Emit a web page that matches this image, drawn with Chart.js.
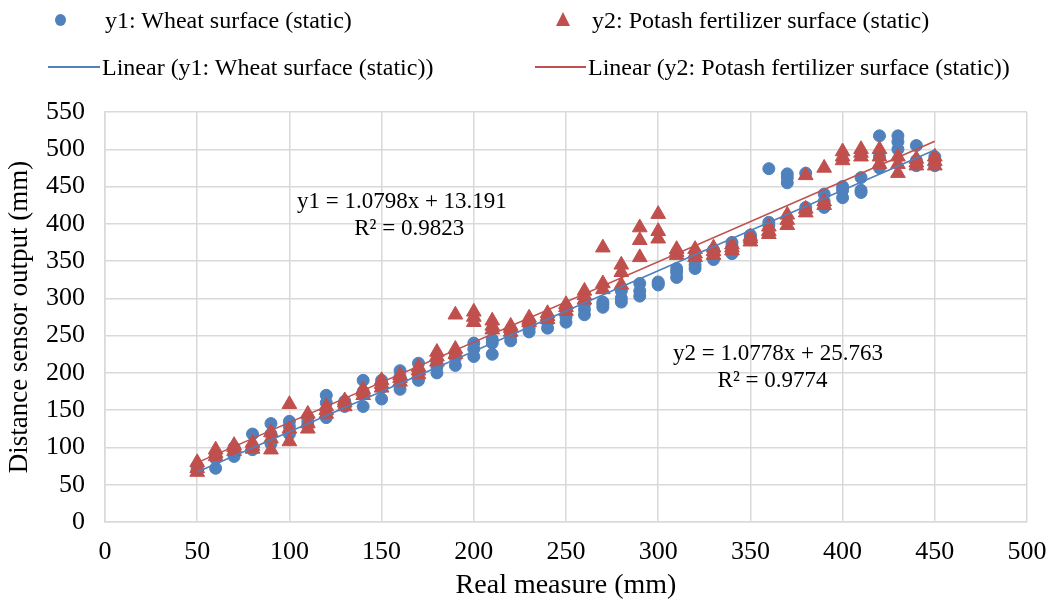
<!DOCTYPE html>
<html>
<head>
<meta charset="utf-8">
<script src="https://cdn.jsdelivr.net/npm/chart.js@4.4.1/dist/chart.umd.min.js"></script>
<style>
  html, body { margin: 0; padding: 0; background: #fff; }
  #wrap { position: relative; width: 1057px; height: 602px; }
  #legend { position: absolute; left: 0; top: 0; width: 1057px; height: 100px;
            font-family: "Liberation Serif", "Times New Roman", serif; font-size: 24px; color: #000; }
  .item { position: absolute; white-space: nowrap; line-height: 24px; }
  .sym { position: absolute; }
</style>
</head>
<body>
<div id="wrap">
  <canvas id="myChart" width="1057" height="602"></canvas>
  <div id="legend">
    <span class="sym" style="left:55px;top:14px;width:11px;height:12px;border-radius:50%;background:#4F81BD"></span>
    <span class="item" style="left:105px;top:8px">y1: Wheat surface (static)</span>
    <span class="sym" style="left:556px;top:12px;width:0;height:0;border-left:7px solid transparent;border-right:7px solid transparent;border-bottom:14px solid #C0504D"></span>
    <span class="item" style="left:592px;top:8px">y2: Potash fertilizer surface (static)</span>
    <span class="sym" style="left:48px;top:66px;width:52px;height:2px;background:#4F81BD"></span>
    <span class="item" style="left:102px;top:55px">Linear (y1: Wheat surface (static))</span>
    <span class="sym" style="left:535px;top:66px;width:51px;height:2px;background:#C0504D"></span>
    <span class="item" style="left:588px;top:55px">Linear (y2: Potash fertilizer surface (static))</span>
  </div>
</div>
<script>
const measures = [50, 60, 70, 80, 90, 100, 110, 120, 130, 140, 150, 160, 170, 180, 190, 200,
                  210, 220, 230, 240, 250, 260, 270, 280, 290, 300, 310, 320, 330, 340, 350,
                  360, 370, 380, 390, 400, 410, 420, 430, 440, 450];

// three readings per measure, wheat surface
const wheatA = [70, 72, 88, 97, 105, 118, 130, 140, 155, 155, 165, 178, 190, 200, 210, 222,
                225, 243, 255, 260, 268, 278, 288, 295, 303, 318, 328, 340, 352, 360, 380,
                398, 455, 418, 422, 435, 442, 475, 500, 478, 478];
const wheatB = [72, 85, 95, 100, 118, 128, 135, 160, 160, 175, 180, 195, 200, 208, 220, 232,
                240, 250, 260, 268, 275, 285, 292, 300, 310, 320, 335, 345, 360, 370, 383,
                402, 462, 422, 430, 445, 445, 490, 510, 485, 485];
const wheatC = [75, 90, 100, 118, 132, 135, 140, 170, 162, 190, 190, 203, 213, 215, 225, 240,
                245, 255, 265, 272, 285, 292, 295, 310, 320, 322, 340, 352, 365, 375, 385,
                474, 467, 468, 440, 450, 462, 518, 518, 505, 490];

// three readings per measure, potash fertilizer surface
const potashA = [67, 88, 95, 98, 97, 108, 125, 145, 155, 170, 180, 188, 198, 215, 225, 268,
                 258, 255, 268, 272, 283, 298, 312, 318, 355, 380, 358, 355, 358, 364, 376,
                 386, 398, 415, 425, 485, 490, 480, 468, 478, 478];
const potashB = [72, 92, 100, 102, 112, 125, 132, 150, 160, 175, 185, 193, 203, 222, 232, 275,
                 263, 260, 271, 276, 288, 304, 320, 335, 378, 390, 362, 360, 363, 368, 380,
                 390, 405, 420, 430, 490, 495, 490, 480, 482, 484];
const potashC = [80, 97, 103, 106, 120, 158, 145, 155, 163, 178, 190, 197, 208, 228, 278, 282,
                 270, 263, 274, 280, 292, 310, 368, 345, 395, 413, 366, 366, 368, 372, 383,
                 396, 412, 465, 475, 497, 500, 500, 490, 487, 490];

// trendline coefficients
const slope1 = 1.0798, icpt1 = 13.191, r2_1 = 0.9823;
const slope2 = 1.0778, icpt2 = 25.763, r2_2 = 0.9774;
const trendRange = [50, 450];

const blue = '#4F81BD';
const red = '#C0504D';
const font = 'Liberation Serif';

function points(xs, ...cols) {
  const out = [];
  cols.forEach(c => xs.forEach((x, i) => out.push({ x: x, y: c[i] })));
  return out;
}
function trend(m, b) {
  return trendRange.map(x => ({ x: x, y: m * x + b }));
}

const labelPlugin = {
  id: 'trendLabels',
  afterDraw(chart) {
    const c = chart.ctx, xs = chart.scales.x, ys = chart.scales.y;
    c.save();
    c.font = '23px "' + font + '"';
    c.fillStyle = '#000';
    c.textAlign = 'center';
    c.textBaseline = 'middle';
    c.fillText('y1 = ' + slope1 + 'x + ' + icpt1, xs.getPixelForValue(161), ys.getPixelForValue(430));
    c.fillText('R² = ' + r2_1, xs.getPixelForValue(165), ys.getPixelForValue(393));
    c.fillText('y2 = ' + slope2 + 'x + ' + icpt2, xs.getPixelForValue(365), ys.getPixelForValue(226));
    c.fillText('R² = ' + r2_2, xs.getPixelForValue(362), ys.getPixelForValue(189));
    c.restore();
  }
};

const ctx = document.getElementById('myChart');

new Chart(ctx, {
  type: 'scatter',
  data: {
    datasets: [
      {
        label: 'y1: Wheat surface (static)',
        data: points(measures, wheatA, wheatB, wheatC),
        backgroundColor: blue, borderColor: blue,
        pointStyle: 'circle', pointRadius: 6, pointBorderWidth: 1,
        order: 4
      },
      {
        label: 'y2: Potash fertilizer surface (static)',
        data: points(measures, potashA, potashB, potashC),
        backgroundColor: red, borderColor: red,
        pointStyle: 'triangle', pointRadius: 8.5, pointBorderWidth: 1,
        order: 3
      },
      {
        type: 'line',
        label: 'Linear (y1: Wheat surface (static))',
        data: trend(slope1, icpt1),
        borderColor: blue, borderWidth: 1.6, pointRadius: 0, fill: false,
        order: 2
      },
      {
        type: 'line',
        label: 'Linear (y2: Potash fertilizer surface (static))',
        data: trend(slope2, icpt2),
        borderColor: red, borderWidth: 1.6, pointRadius: 0, fill: false,
        order: 1
      }
    ]
  },
  options: {
    responsive: false,
    animation: false,
    layout: { padding: { top: 112, right: 30, left: 0, bottom: 0 } },
    plugins: { legend: { display: false }, tooltip: { enabled: false } },
    scales: {
      x: {
        type: 'linear', min: 0, max: 500,
        ticks: { stepSize: 50, color: '#000', font: { family: font, size: 26 }, padding: 15 },
        grid: { color: '#d9d9d9', lineWidth: 1.5, drawTicks: false },
        border: { color: '#d9d9d9', width: 1.5 },
        title: { display: true, text: 'Real measure (mm)', color: '#000',
                 font: { family: font, size: 28 }, padding: { top: 0, bottom: 0 } },
        afterFit(s) { s.height = 80; s.paddingRight = 0; s.paddingLeft = 0; }
      },
      y: {
        type: 'linear', min: 0, max: 550,
        ticks: { stepSize: 50, color: '#000', font: { family: font, size: 26 }, padding: 20 },
        grid: { color: '#d9d9d9', lineWidth: 1.5, drawTicks: false },
        border: { color: '#d9d9d9', width: 1.5 },
        title: { display: true, text: 'Distance sensor output (mm)', color: '#000',
                 font: { family: font, size: 27 }, padding: { top: 4, bottom: 0 } },
        afterFit(s) { s.width = 105; s.paddingTop = 0; s.paddingBottom = 0; }
      }
    }
  },
  plugins: [labelPlugin]
});
</script>
</body>
</html>
